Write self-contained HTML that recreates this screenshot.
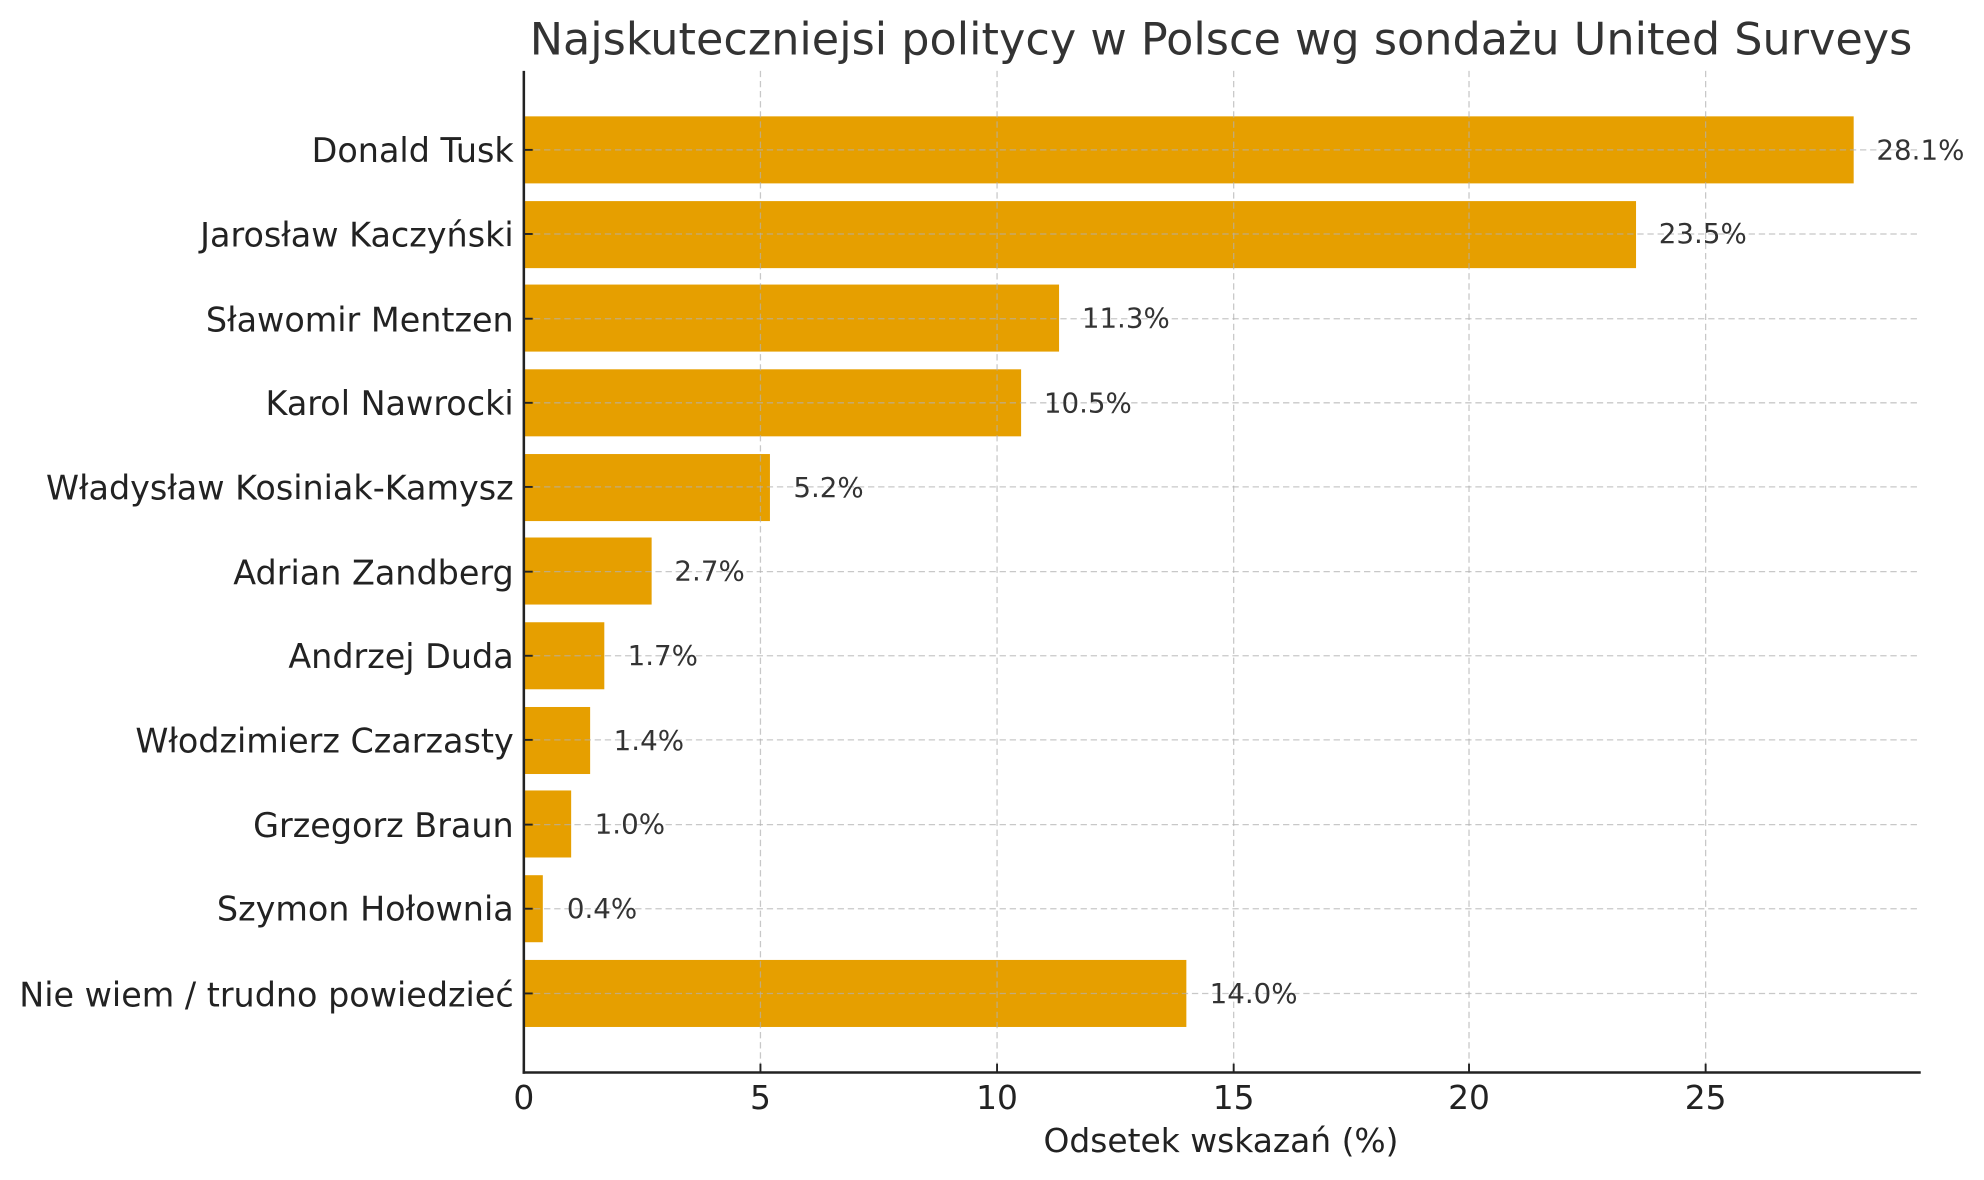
<!DOCTYPE html>
<html><head><meta charset="utf-8"><style>
html,body{margin:0;padding:0;background:#fff;}
svg{display:block;}
text{font-family:"DejaVu Sans","Liberation Sans",sans-serif;}
</style></head><body>
<svg width="1984" height="1180" viewBox="0 0 1568 933" preserveAspectRatio="none" xmlns="http://www.w3.org/2000/svg">
<rect width="1568" height="933" fill="#fff"/>
<text x="965" y="43" font-size="35.2" fill="#333" text-anchor="middle">Najskuteczniejsi politycy w Polsce wg sondażu United Surveys</text>
<g fill="#E69F00">
<rect x="414" y="92" width="1051" height="53"/>
<rect x="414" y="159" width="879" height="53"/>
<rect x="414" y="225" width="423" height="53"/>
<rect x="414" y="292" width="393" height="53"/>
<rect x="414" y="359" width="194.5" height="53"/>
<rect x="414" y="425" width="101" height="53"/>
<rect x="414" y="492" width="63.6" height="53"/>
<rect x="414" y="559" width="52.4" height="53"/>
<rect x="414" y="625" width="37.4" height="53"/>
<rect x="414" y="692" width="15" height="53"/>
<rect x="414" y="759" width="523.6" height="53"/>
</g>
<g stroke="#b0b0b0" stroke-opacity="0.7" stroke-width="1" stroke-dasharray="5,3">
<line x1="601" y1="56" x2="601" y2="848"/>
<line x1="788" y1="56" x2="788" y2="848"/>
<line x1="975" y1="56" x2="975" y2="848"/>
<line x1="1161" y1="56" x2="1161" y2="848"/>
<line x1="1348" y1="56" x2="1348" y2="848"/>
<line x1="414" y1="118.5" x2="1517" y2="118.5"/>
<line x1="414" y1="185" x2="1517" y2="185"/>
<line x1="414" y1="252" x2="1517" y2="252"/>
<line x1="414" y1="318.5" x2="1517" y2="318.5"/>
<line x1="414" y1="385" x2="1517" y2="385"/>
<line x1="414" y1="452" x2="1517" y2="452"/>
<line x1="414" y1="518.5" x2="1517" y2="518.5"/>
<line x1="414" y1="585" x2="1517" y2="585"/>
<line x1="414" y1="652" x2="1517" y2="652"/>
<line x1="414" y1="718.5" x2="1517" y2="718.5"/>
<line x1="414" y1="785.5" x2="1517" y2="785.5"/>
</g>
<g stroke="#222" stroke-width="2" fill="none">
<line x1="414" y1="56" x2="414" y2="849"/>
<line x1="413" y1="848" x2="1518" y2="848"/>
</g>
<g stroke="#222" stroke-width="1.5">
<line x1="414" y1="848" x2="414" y2="841"/><line x1="601" y1="848" x2="601" y2="841"/><line x1="788" y1="848" x2="788" y2="841"/><line x1="975" y1="848" x2="975" y2="841"/><line x1="1161" y1="848" x2="1161" y2="841"/><line x1="1348" y1="848" x2="1348" y2="841"/>
<line x1="414" y1="118.5" x2="421" y2="118.5"/><line x1="414" y1="185" x2="421" y2="185"/><line x1="414" y1="252" x2="421" y2="252"/><line x1="414" y1="318.5" x2="421" y2="318.5"/><line x1="414" y1="385" x2="421" y2="385"/><line x1="414" y1="452" x2="421" y2="452"/><line x1="414" y1="518.5" x2="421" y2="518.5"/><line x1="414" y1="585" x2="421" y2="585"/><line x1="414" y1="652" x2="421" y2="652"/><line x1="414" y1="718.5" x2="421" y2="718.5"/><line x1="414" y1="785.5" x2="421" y2="785.5"/>
</g>
<g font-size="26.4" fill="#222" text-anchor="end">
<text x="406" y="128">Donald Tusk</text>
<text x="406" y="195">Jarosław Kaczyński</text>
<text x="406" y="262">Sławomir Mentzen</text>
<text x="406" y="328">Karol Nawrocki</text>
<text x="406" y="395">Władysław Kosiniak-Kamysz</text>
<text x="406" y="462">Adrian Zandberg</text>
<text x="406" y="528">Andrzej Duda</text>
<text x="406" y="595">Włodzimierz Czarzasty</text>
<text x="406" y="662">Grzegorz Braun</text>
<text x="406" y="728">Szymon Hołownia</text>
<text x="406" y="796">Nie wiem / trudno powiedzieć</text>
</g>
<g font-size="26" fill="#222" text-anchor="middle">
<text x="414" y="877">0</text><text x="601" y="877">5</text><text x="788" y="877">10</text><text x="975" y="877">15</text><text x="1161" y="877">20</text><text x="1348" y="877">25</text>
<text x="965" y="911">Odsetek wskazań (%)</text>
</g>
<g font-size="21.9" fill="#333">
<text x="1483" y="126">28.1%</text>
<text x="1311" y="192">23.5%</text>
<text x="855" y="259">11.3%</text>
<text x="825" y="326">10.5%</text>
<text x="627" y="393">5.2%</text>
<text x="533" y="459">2.7%</text>
<text x="496" y="526">1.7%</text>
<text x="485" y="593">1.4%</text>
<text x="470" y="659">1.0%</text>
<text x="448" y="726">0.4%</text>
<text x="956" y="793">14.0%</text>
</g>
</svg>
</body></html>
